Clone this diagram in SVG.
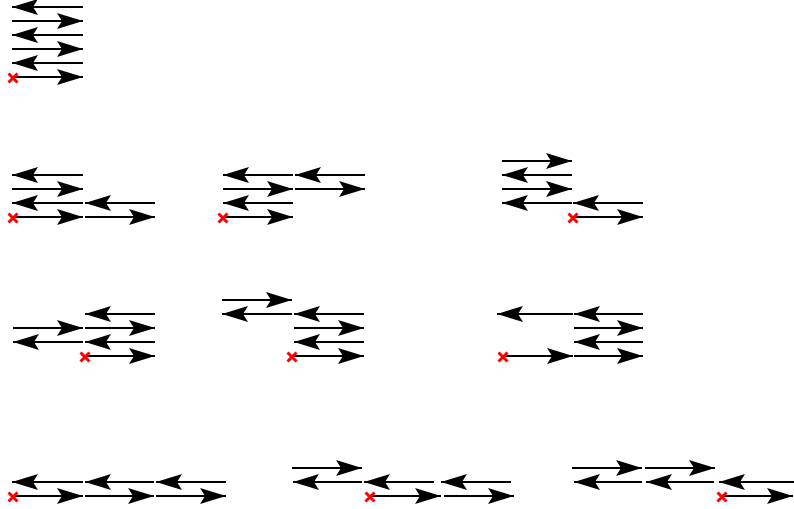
<svg xmlns="http://www.w3.org/2000/svg" width="794" height="509" viewBox="0 0 794 509">
<defs>
<marker id="ah" markerUnits="userSpaceOnUse" markerWidth="30" markerHeight="20" viewBox="-28 -10 30 20" refX="0" refY="0" orient="auto" overflow="visible">
<path d="M0,0 L-26,-8 L-21,0 L-26,8 Z" fill="#000"/>
</marker>
<g id="x"><path d="M-4.5,-4.5 L4.5,4.5 M-4.5,4.5 L4.5,-4.5" stroke="#ff0000" stroke-width="3" fill="none"/></g>
</defs>
<style>
.a{stroke:#000;stroke-width:2;fill:none;marker-end:url(#ah)}
</style>
<rect width="794" height="509" fill="#fff"/>
<g id="connectors">
<g id="g1">
<line class="a" x1="83" y1="7" x2="12" y2="7"/>
<line class="a" x1="12" y1="21" x2="83" y2="21"/>
<line class="a" x1="83" y1="35" x2="12" y2="35"/>
<line class="a" x1="12" y1="49" x2="83" y2="49"/>
<line class="a" x1="83" y1="63" x2="12" y2="63"/>
<line class="a" x1="13" y1="77" x2="83" y2="77"/>
</g>
<g id="g2">
<line class="a" x1="83" y1="175" x2="12" y2="175"/>
<line class="a" x1="12" y1="189" x2="83" y2="189"/>
<line class="a" x1="83" y1="203" x2="12" y2="203"/>
<line class="a" x1="155" y1="203" x2="85" y2="203"/>
<line class="a" x1="13" y1="217" x2="83" y2="217"/>
<line class="a" x1="85" y1="217" x2="155" y2="217"/>
</g>
<g id="g3">
<line class="a" x1="293" y1="175" x2="223" y2="175"/>
<line class="a" x1="365" y1="175" x2="295" y2="175"/>
<line class="a" x1="223" y1="189" x2="293" y2="189"/>
<line class="a" x1="295" y1="189" x2="365" y2="189"/>
<line class="a" x1="293" y1="203" x2="223" y2="203"/>
<line class="a" x1="223" y1="217" x2="293" y2="217"/>
</g>
<g id="g4">
<line class="a" x1="502" y1="161" x2="572" y2="161"/>
<line class="a" x1="572" y1="175" x2="502" y2="175"/>
<line class="a" x1="502" y1="189" x2="572" y2="189"/>
<line class="a" x1="572" y1="203" x2="502" y2="203"/>
<line class="a" x1="643" y1="203" x2="573" y2="203"/>
<line class="a" x1="573" y1="217" x2="643" y2="217"/>
</g>
<g id="g5">
<line class="a" x1="155" y1="314" x2="85" y2="314"/>
<line class="a" x1="13" y1="328" x2="83" y2="328"/>
<line class="a" x1="85" y1="328" x2="155" y2="328"/>
<line class="a" x1="83" y1="342" x2="13" y2="342"/>
<line class="a" x1="155" y1="342" x2="85" y2="342"/>
<line class="a" x1="85" y1="356" x2="155" y2="356"/>
</g>
<g id="g6">
<line class="a" x1="222" y1="300" x2="292" y2="300"/>
<line class="a" x1="292" y1="314" x2="222" y2="314"/>
<line class="a" x1="364" y1="314" x2="294" y2="314"/>
<line class="a" x1="294" y1="328" x2="364" y2="328"/>
<line class="a" x1="364" y1="342" x2="294" y2="342"/>
<line class="a" x1="292" y1="356" x2="364" y2="356"/>
</g>
<g id="g7">
<line class="a" x1="573" y1="314" x2="497" y2="314"/>
<line class="a" x1="643" y1="314" x2="574" y2="314"/>
<line class="a" x1="574" y1="328" x2="643" y2="328"/>
<line class="a" x1="643" y1="342" x2="574" y2="342"/>
<line class="a" x1="502" y1="356" x2="573" y2="356"/>
<line class="a" x1="574" y1="356" x2="643" y2="356"/>
</g>
<g id="g8">
<line class="a" x1="83" y1="482" x2="12" y2="482"/>
<line class="a" x1="154" y1="482" x2="85" y2="482"/>
<line class="a" x1="226" y1="482" x2="156" y2="482"/>
<line class="a" x1="13" y1="496" x2="83" y2="496"/>
<line class="a" x1="85" y1="496" x2="154" y2="496"/>
<line class="a" x1="156" y1="496" x2="226" y2="496"/>
</g>
<g id="g9">
<line class="a" x1="292" y1="468" x2="362" y2="468"/>
<line class="a" x1="362" y1="482" x2="293" y2="482"/>
<line class="a" x1="434" y1="482" x2="364" y2="482"/>
<line class="a" x1="511" y1="482" x2="441" y2="482"/>
<line class="a" x1="370" y1="496" x2="441" y2="496"/>
<line class="a" x1="444" y1="496" x2="514" y2="496"/>
</g>
<g id="g10">
<line class="a" x1="572" y1="468" x2="642" y2="468"/>
<line class="a" x1="645" y1="468" x2="715" y2="468"/>
<line class="a" x1="642" y1="482" x2="574" y2="482"/>
<line class="a" x1="714" y1="482" x2="646" y2="482"/>
<line class="a" x1="794" y1="482" x2="719" y2="482"/>
<line class="a" x1="722" y1="496" x2="793" y2="496"/>
</g>
</g>
<g id="marks">
<use href="#x" x="13" y="78"/>
<use href="#x" x="13" y="218"/>
<use href="#x" x="223" y="218"/>
<use href="#x" x="573" y="218"/>
<use href="#x" x="85" y="357"/>
<use href="#x" x="292" y="357"/>
<use href="#x" x="503" y="357"/>
<use href="#x" x="13" y="497"/>
<use href="#x" x="370" y="497"/>
<use href="#x" x="722" y="497"/>
</g>
</svg>
